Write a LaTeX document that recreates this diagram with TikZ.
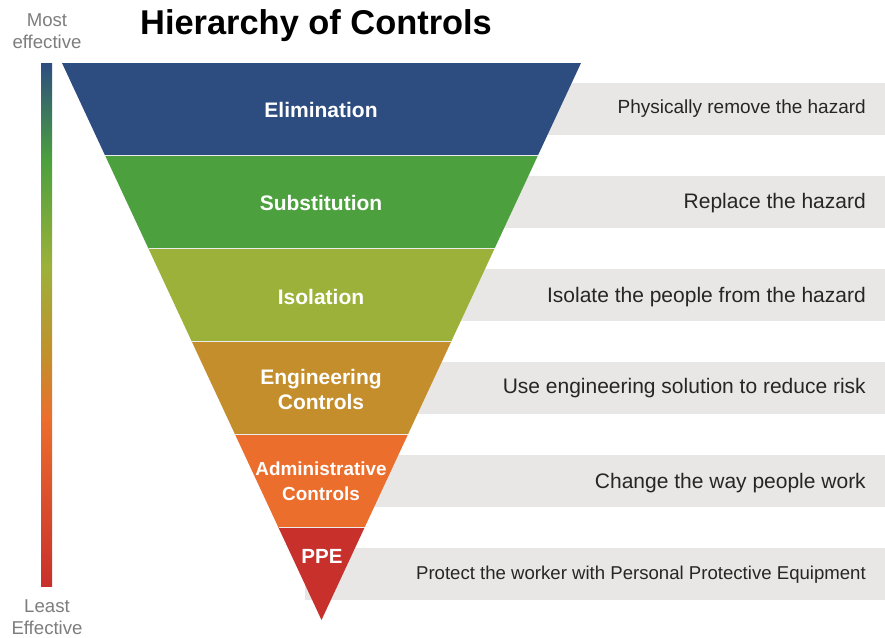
\documentclass[tikz,border=0pt]{standalone}
\usepackage{fontspec}
\setmainfont{Liberation Sans}
\definecolor{elimcol}{RGB}{45,77,128}
\definecolor{substcol}{RGB}{76,160,62}
\definecolor{isolcol}{RGB}{156,177,58}
\definecolor{engcol}{RGB}{196,142,44}
\definecolor{admincol}{RGB}{235,110,45}
\definecolor{ppecol}{RGB}{200,48,44}
\definecolor{boxgray}{RGB}{232,231,230}
\definecolor{descgray}{RGB}{38,38,38}
\definecolor{sidegray}{RGB}{125,125,125}
\pgfdeclareverticalshading{effbar}{100bp}{color(0bp)=(ppecol); color(25bp)=(ppecol);
  color(41bp)=(admincol); color(46.6bp)=(engcol); color(55.5bp)=(isolcol);
  color(65.7bp)=(substcol); color(75bp)=(elimcol); color(100bp)=(elimcol)}
\tikzset{
  band/.style={text=white, font=\bfseries\fontsize{21}{25}\selectfont, align=center, inner sep=0pt},
  desc/.style={text=descgray, anchor=east, inner sep=0pt, font=\fontsize{21}{25}\selectfont},
  side/.style={text=sidegray, align=center, inner sep=0pt, font=\fontsize{18.6}{22}\selectfont}
}
\begin{document}
\begin{tikzpicture}[x=1pt, y=-1pt]
  \useasboundingbox (0,0) rectangle (885,637);
  % grey strips behind the funnel
  \foreach \y in {109.4,202.2,295.1,387.9,480.7,573.6}
    \fill[boxgray] (305,\y-26) rectangle (885,\y+26);
  % funnel, one band per level
  \foreach \col [count=\i from 0] in {elimcol,substcol,isolcol,engcol,admincol,ppecol}{
    \pgfmathsetmacro\ya{63+92.83*\i}
    \pgfmathsetmacro\yb{63+92.83*(\i+1)}
    \pgfmathsetmacro\wa{259.5*(1-\i/6)}
    \pgfmathsetmacro\wb{259.5*(1-(\i+1)/6)}
    \fill[\col] (321.5-\wa,\ya) -- (321.5+\wa,\ya) -- (321.5+\wb,\yb) -- (321.5-\wb,\yb) -- cycle;
  }
  \foreach \i in {1,...,5}
    \draw[white!85!gray, line width=0.8pt] (62+43.33*\i,63+92.83*\i) -- (581-43.17*\i,63+92.83*\i);
  \node[band] (elim) at (321,110) {Elimination};
  \node[band] (subst) at (321,203) {Substitution};
  \node[band] (isol) at (321,297) {Isolation};
  \node[band] (eng) at (321,389) {Engineering\\Controls};
  \node[band, font=\bfseries\fontsize{18.9}{25}\selectfont] (admin) at (321,481) {Administrative\\Controls};
  \node[band, font=\bfseries\fontsize{20.5}{24}\selectfont] (ppe) at (322,556) {PPE};
  % what each level does
  \node[desc, font=\fontsize{19}{23}\selectfont] (elimtxt) at (866,109) {Physically remove the hazard};
  \node[desc] (substtxt) at (866,203) {Replace the hazard};
  \node[desc] (isoltxt) at (866,297) {Isolate the people from the hazard};
  \node[desc] (engtxt) at (866,388) {Use engineering solution to reduce risk};
  \node[desc] (admintxt) at (866,483) {Change the way people work};
  \node[desc, font=\fontsize{18.6}{22}\selectfont] (ppetxt) at (866,575) {Protect the worker with Personal Protective Equipment};
  % effectiveness scale
  \shade[shading=effbar] (41,63) rectangle (52,586);
  \node[side] (most) at (47,31) {Most\\effective};
  \node[side] (least) at (47,617) {Least\\Effective};
  \node[font=\bfseries\fontsize{34.4}{40}\selectfont, anchor=west, inner sep=0pt] (title) at (140,26) {Hierarchy of Controls};
\end{tikzpicture}
\end{document}
